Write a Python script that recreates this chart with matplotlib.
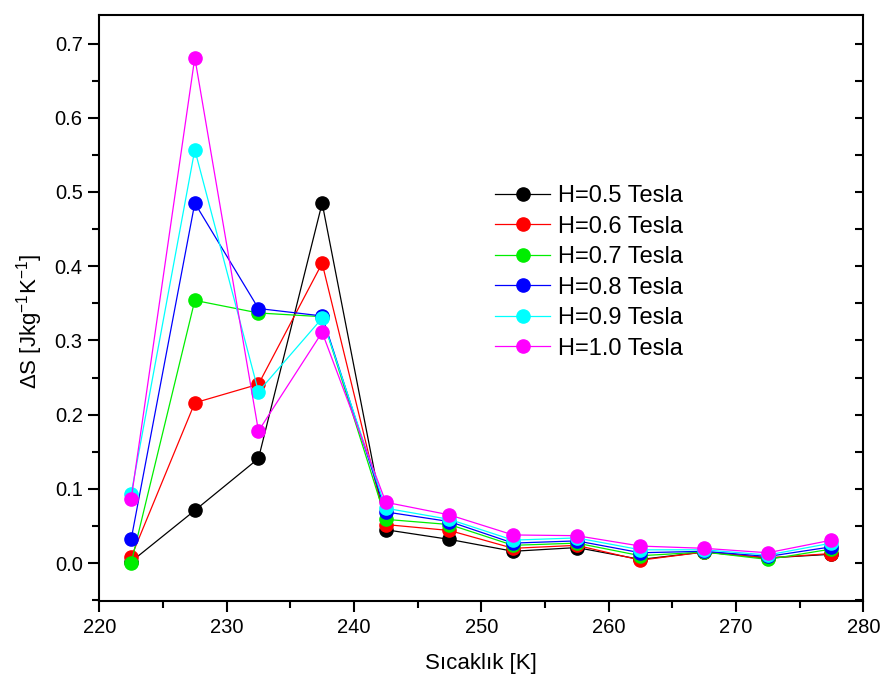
import matplotlib
matplotlib.use("Agg")
import matplotlib.pyplot as plt
from matplotlib.ticker import MultipleLocator, FormatStrFormatter

plt.rcParams['font.family'] = ['Liberation Sans', 'DejaVu Sans']
plt.rcParams['mathtext.fontset'] = 'custom'
plt.rcParams['mathtext.rm'] = 'Liberation Sans'
plt.rcParams['mathtext.it'] = 'Liberation Sans'

# Temperature (K)
temperature = [222.5, 227.5, 232.5, 237.5, 242.5, 247.5, 252.5, 257.5, 262.5, 267.5, 272.5, 277.5]

# Magnetic entropy change for each applied field
ds_05 = [0.002, 0.071, 0.141, 0.485, 0.045, 0.032, 0.016, 0.021, 0.005, 0.015, 0.007, 0.012]
ds_06 = [0.008, 0.216, 0.241, 0.404, 0.052, 0.044, 0.020, 0.024, 0.004, 0.015, 0.007, 0.013]
ds_07 = [0.000, 0.354, 0.337, 0.332, 0.059, 0.052, 0.024, 0.027, 0.010, 0.015, 0.005, 0.019]
ds_08 = [0.032, 0.485, 0.343, 0.333, 0.069, 0.056, 0.027, 0.030, 0.014, 0.016, 0.009, 0.022]
ds_09 = [0.093, 0.557, 0.231, 0.330, 0.074, 0.059, 0.031, 0.034, 0.018, 0.018, 0.011, 0.027]
ds_10 = [0.086, 0.681, 0.178, 0.311, 0.082, 0.065, 0.038, 0.037, 0.023, 0.020, 0.014, 0.031]

series = [ds_05, ds_06, ds_07, ds_08, ds_09, ds_10]
labels = ['H=0.5 Tesla', 'H=0.6 Tesla', 'H=0.7 Tesla', 'H=0.8 Tesla', 'H=0.9 Tesla', 'H=1.0 Tesla']
colors = ['#000000', '#ff0000', '#00ee00', '#0000ff', '#00ffff', '#ff00ff']

fig = plt.figure(figsize=(8.85, 6.89), dpi=100)
ax = fig.add_axes([0.1122, 0.1277, 0.8633, 0.8501])

for vals, lab, col in zip(series, labels, colors):
    ax.plot(temperature, vals, '-o', color=col, markerfacecolor=col, markeredgecolor=col,
            markersize=9.5, linewidth=0.9, label=lab)

ax.set_xlim(220, 280)
ax.set_ylim(-0.051, 0.738)
ax.xaxis.set_major_locator(MultipleLocator(10))
ax.xaxis.set_minor_locator(MultipleLocator(5))
ax.yaxis.set_major_locator(MultipleLocator(0.1))
ax.yaxis.set_minor_locator(MultipleLocator(0.05))
ax.yaxis.set_major_formatter(FormatStrFormatter('%.1f'))

for sp in ax.spines.values():
    sp.set_linewidth(1.5)

ax.tick_params(axis='both', which='major', direction='out', length=8, width=1.5,
               labelsize=14.5, pad=4)
ax.tick_params(axis='both', which='minor', direction='out', length=5, width=1.5)
ax.tick_params(top=False, which='both')
ax.tick_params(axis='y', which='both', right=True, labelright=False)

# Mirrored ticks on the right spine point into the plot
for t in ax.yaxis.get_major_ticks() + ax.yaxis.get_minor_ticks():
    t.tick2line.set_marker(matplotlib.markers.TICKLEFT)
    t.tick2line.set_markersize(6)

ax.set_xlabel('Sıcaklık [K]', fontsize=16, labelpad=12)
ax.set_ylabel(r'$\Delta$S [Jkg$^{\mathregular{-1}}$K$^{\mathregular{-1}}$]', fontsize=16)
ax.yaxis.set_label_coords(-0.071, 0.478)

leg = ax.legend(loc='upper left', bbox_to_anchor=(495 / 885, 1 - 185 / 689),
                bbox_transform=fig.transFigure, frameon=False, fontsize=17,
                borderpad=0, borderaxespad=0, handlelength=2.33, handletextpad=0.34,
                labelspacing=0.36, markerscale=1.0)

fig.savefig('out.png', dpi=100)
